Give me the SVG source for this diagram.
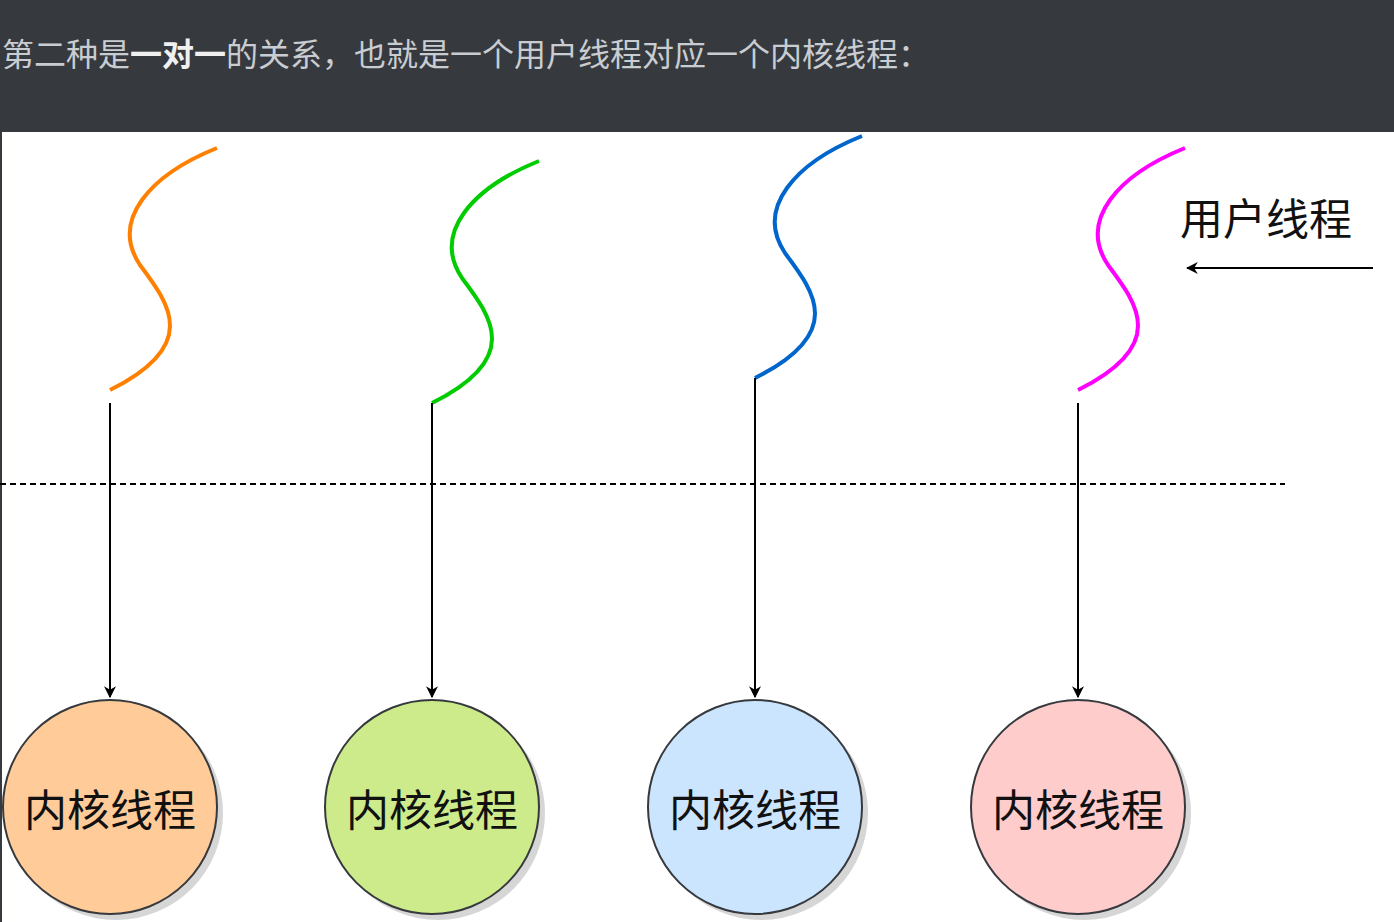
<svg xmlns="http://www.w3.org/2000/svg" width="1394" height="922" viewBox="0 0 1394 922">
<style>
.h{font-family:"Noto Sans CJK SC","Liberation Sans",sans-serif;font-size:32px;fill:#c9cdd1}
.t{font-family:"Noto Sans CJK SC","Liberation Sans",sans-serif;font-size:43px;fill:#111}
.c{stroke:#36393d;stroke-width:2}
.w{fill:none;stroke-width:4}
.a{stroke:#000;stroke-width:2;fill:none}
</style>
<defs>
<marker id="ar" viewBox="0 0 10 10" refX="9" refY="5" markerWidth="12" markerHeight="12" markerUnits="userSpaceOnUse" orient="auto"><path d="M0,0 L10,5 L0,10 L3,5 z" fill="#000"/></marker>
<path id="s" d="M107,-242 C40,-215 0,-170 30,-125 C60,-85 90,-45 0,0"/>
</defs>
<rect width="1394" height="922" fill="#fff"/>
<rect width="1394" height="132" fill="#363a3f"/>
<rect x="0" y="132" width="2" height="790" fill="#363a3f"/>
<text class="h" x="2" y="66">第二种是<tspan font-weight="bold" fill="#f0f0f0">一对一</tspan>的关系，也就是一个用户线程对应一个内核线程：</text>
<g id="threads">
<use href="#s" x="110" y="390" class="w" stroke="#ff8000"/>
<use href="#s" x="432" y="403" class="w" stroke="#00cc00"/>
<use href="#s" x="755" y="378" class="w" stroke="#0066cc"/>
<use href="#s" x="1078" y="390" class="w" stroke="#ff00ff"/>
</g>
<g id="connectors">
<line x1="0" y1="484" x2="1285" y2="484" stroke="#000" stroke-width="2" stroke-dasharray="6,4"/>
<line class="a" x1="110" y1="403" x2="110" y2="697" marker-end="url(#ar)"/>
<line class="a" x1="432" y1="403" x2="432" y2="697" marker-end="url(#ar)"/>
<line class="a" x1="755" y1="378" x2="755" y2="697" marker-end="url(#ar)"/>
<line class="a" x1="1078" y1="403" x2="1078" y2="697" marker-end="url(#ar)"/>
<line class="a" x1="1373" y1="268" x2="1187" y2="268" marker-end="url(#ar)"/>
</g>
<g id="label"><text class="t" x="1180" y="235">用户线程</text></g>
<g id="k1"><circle cx="116" cy="813" r="107" fill="#bbb" opacity="0.6"/><circle class="c" cx="110" cy="807" r="107" fill="#ffcc99"/><text class="t" x="110" y="826" text-anchor="middle">内核线程</text></g>
<g id="k2"><circle cx="438" cy="813" r="107" fill="#bbb" opacity="0.6"/><circle class="c" cx="432" cy="807" r="107" fill="#cdeb8b"/><text class="t" x="432" y="826" text-anchor="middle">内核线程</text></g>
<g id="k3"><circle cx="761" cy="813" r="107" fill="#bbb" opacity="0.6"/><circle class="c" cx="755" cy="807" r="107" fill="#cce5ff"/><text class="t" x="755" y="826" text-anchor="middle">内核线程</text></g>
<g id="k4"><circle cx="1084" cy="813" r="107" fill="#bbb" opacity="0.6"/><circle class="c" cx="1078" cy="807" r="107" fill="#ffcccc"/><text class="t" x="1078" y="826" text-anchor="middle">内核线程</text></g>
</svg>
